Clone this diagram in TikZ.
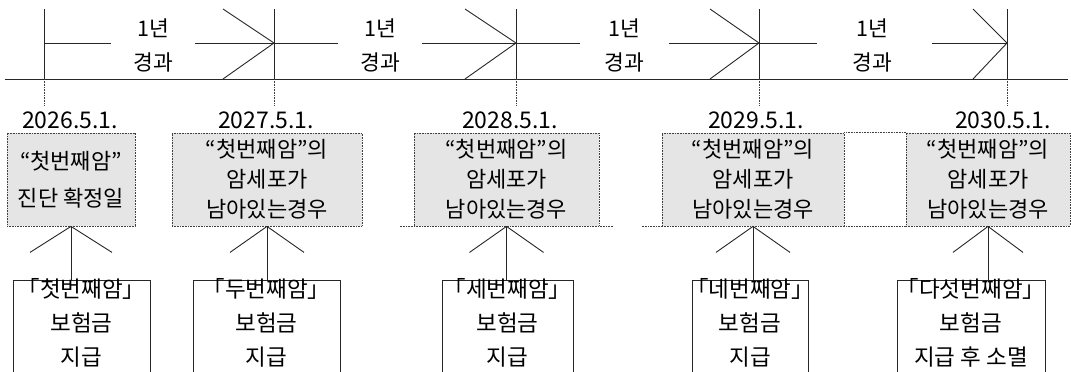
\documentclass[tikz,border=0pt]{standalone}
\usepackage{fontspec}
\setmainfont{Noto Sans CJK KR}
\newcommand\myLB{\kern-0.45em 「}
\newcommand\myRB{」\kern-0.45em}
\begin{document}
\begin{tikzpicture}[x=1pt,y=-1pt,
  tl/.style={line width=0.9pt, draw=black!85},
  dl/.style={line width=0.8pt, draw=black!75, dash pattern=on 0.8pt off 0.8pt},
  yr/.style={align=center, inner sep=0pt, font=\fontsize{21.5}{34}\selectfont},
  dt/.style={inner sep=1pt, font=\fontsize{23}{23}\selectfont},
  gbox/.style={fill=black!10, draw=black!75, line width=0.8pt, dash pattern=on 0.8pt off 0.8pt, minimum height=93pt, inner sep=0pt, align=center, font=\fontsize{22}{30}\selectfont},
  pbox/.style={draw=black!85, line width=0.9pt, anchor=north, inner xsep=0pt, inner ysep=0pt, align=center, text height=85pt, text depth=15pt, font=\fontsize{22.5}{34}\selectfont},
]
\useasboundingbox (0,0) rectangle (1071,372);
\clip (0,0) rectangle (1071,372);

% timeline ticks
\foreach \n/\x in {1/44,2/274,3/516,4/759,5/1007} {
  \coordinate (t\n top) at (\x,9);
  \coordinate (t\n) at (\x,43);
  \coordinate (t\n bot) at (\x,79);
}
\coordinate (bl) at (5,79);
\coordinate (br) at (1068,79);
\draw[tl] (bl) -- (br);
\foreach \n in {1,...,5} \draw[tl] (t\n top) -- (t\n bot);

% year labels
\node[yr] (y1) at (153,45) {1년\\경과};
\node[yr] (y2) at (380,45) {1년\\경과};
\node[yr] (y3) at (624,45) {1년\\경과};
\node[yr] (y4) at (872,45) {1년\\경과};

% arrows between ticks
\foreach \i/\j/\gl/\gr/\h in {1/2/111/195/223, 2/3/338/422/465, 3/4/580/669/710, 4/5/817/932/973} {
  \coordinate (g\i l) at (\gl,43);
  \coordinate (g\i r) at (\gr,43);
  \coordinate (h\i a) at (\h,9);
  \coordinate (h\i b) at (\h,79);
  \draw[tl] (t\i) -- (g\i l);
  \draw[tl] (g\i r) -- (t\j);
  \draw[tl] (h\i a) -- (t\j) -- (h\i b);
}

% dates
\node[dt] (d1) at (70,120) {2026.5.1.};
\node[dt] (d2) at (266,120) {2027.5.1.};
\node[dt] (d3) at (510,120) {2028.5.1.};
\node[dt] (d4) at (756,120) {2029.5.1.};
\node[dt] (d5) at (1003,120) {2030.5.1.};
\foreach \n in {1,...,5} \draw[dl] (t\n bot) -- ++(0,26);

% grey boxes
\node[gbox, minimum width=128pt] (b1) at (71,179.5) {“첫번째암”\\[7pt]진단 확정일};
\node[gbox, minimum width=190pt] (b2) at (267,179.5) {“첫번째암”의\\암세포가\\남아있는경우};
\node[gbox, minimum width=185pt] (b3) at (506.5,179.5) {“첫번째암”의\\암세포가\\남아있는경우};
\node[gbox, minimum width=182pt] (b4) at (753,179.5) {“첫번째암”의\\암세포가\\남아있는경우};
\node[gbox, minimum width=164pt] (b5) at (988,179.5) {“첫번째암”의\\암세포가\\남아있는경우};
\draw[dl] ([xshift=-14pt]b3.south west) -- ([xshift=14pt]b3.south east);
\draw[dl] ([xshift=-20pt]b4.south west) -- (b4.south west);
\draw[dl] (b4.north east) -- (b5.north west);
\draw[dl] (b4.south east) -- (b5.south west);

% payment boxes
\node[pbox, minimum width=137pt] (p1) at (81.5,280) {\myLB 첫번째암\myRB\\보험금\\지급};
\node[pbox, minimum width=147pt] (p2) at (266.5,280) {\myLB 두번째암\myRB\\보험금\\지급};
\node[pbox, minimum width=131pt] (p3) at (507.5,280) {\myLB 세번째암\myRB\\보험금\\지급};
\node[pbox, minimum width=116pt] (p4) at (750,280) {\myLB 네번째암\myRB\\보험금\\지급};
\node[pbox, minimum width=148pt] (p5) at (971,280) {\myLB 다섯번째암\myRB\\보험금\\지급 후 소멸};

% connectors
\foreach \n/\w in {1/41, 2/37, 3/37, 4/37, 5/35} {
  \draw[tl] (b\n.south) -- (b\n.south |- p\n.north);
  \draw[tl] (b\n.south) -- +(-\w,26);
  \draw[tl] (b\n.south) -- +(\w,26);
}
\end{tikzpicture}
\end{document}
